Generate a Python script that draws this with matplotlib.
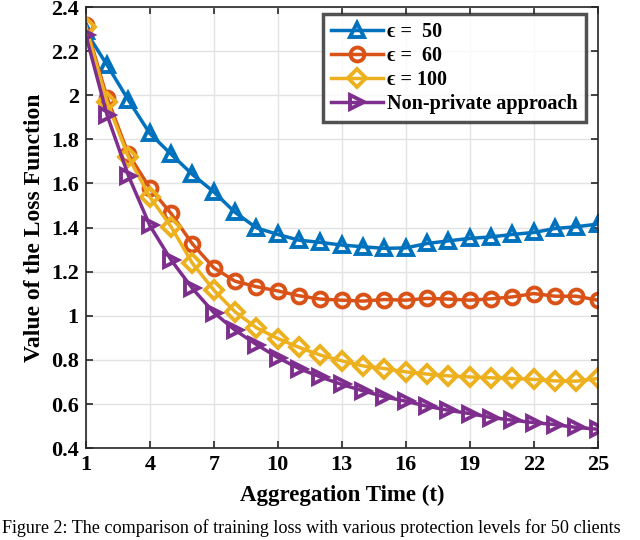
import matplotlib
matplotlib.use("Agg")
from matplotlib import pyplot as plt

# aggregation rounds
tiempos = list(range(1, 26))

perdida_eps50 = [2.29, 2.137, 1.978, 1.827, 1.733, 1.641, 1.562, 1.469, 1.399, 1.369,
                 1.343, 1.333, 1.321, 1.313, 1.306, 1.308, 1.328, 1.340, 1.351, 1.358,
                 1.369, 1.378, 1.396, 1.404, 1.416]
perdida_eps60 = [2.318, 1.989, 1.733, 1.580, 1.464, 1.326, 1.218, 1.157, 1.132, 1.113,
                 1.091, 1.076, 1.071, 1.067, 1.074, 1.071, 1.079, 1.076, 1.071, 1.077,
                 1.086, 1.101, 1.089, 1.089, 1.071]
perdida_eps100 = [2.31, 1.97, 1.72, 1.540, 1.404, 1.238, 1.117, 1.018, 0.946, 0.897,
                  0.857, 0.822, 0.796, 0.773, 0.761, 0.746, 0.736, 0.728, 0.723, 0.719,
                  0.716, 0.712, 0.705, 0.704, 0.716]
perdida_noprivada = [2.273, 1.910, 1.635, 1.410, 1.253, 1.124, 1.015, 0.935, 0.870, 0.811,
                     0.761, 0.723, 0.689, 0.660, 0.633, 0.613, 0.590, 0.572, 0.557, 0.539,
                     0.527, 0.516, 0.507, 0.494, 0.486]

etiquetas = ["\u03f5 =  50", "\u03f5 =  60", "\u03f5 = 100", "Non-private approach"]
ticks_x = [1, 4, 7, 10, 13, 16, 19, 22, 25]
ticks_y = [0.4, 0.6, 0.8, 1, 1.2, 1.4, 1.6, 1.8, 2, 2.2, 2.4]
etiquetas_y = ["0.4", "0.6", "0.8", "1", "1.2", "1.4", "1.6", "1.8", "2", "2.2", "2.4"]

plt.rcParams["font.family"] = ["Liberation Serif", "DejaVu Serif"]
plt.rcParams["font.weight"] = "bold"

fig = plt.figure(figsize=(6.4, 5.4), dpi=100)
ax = fig.add_axes([0.134, 0.170, 0.800, 0.817])

estilo = dict(linewidth=2.5, markersize=10, markerfacecolor="none", markeredgewidth=2.8)
ax.plot(tiempos, perdida_eps50, "-^", color="#0072BD", label=etiquetas[0], **estilo)
ax.plot(tiempos, perdida_eps60, "-o", color="#D95319", label=etiquetas[1], **estilo)
ax.plot(tiempos, perdida_eps100, "-D", color="#EDB120", label=etiquetas[2],
        linewidth=2.5, markersize=9, markerfacecolor="none", markeredgewidth=2.8)
ax.plot(tiempos, perdida_noprivada, "->", color="#7E2F8E", label=etiquetas[3], **estilo)

ax.set_xlim(1, 25)
ax.set_ylim(0.4, 2.4)
ax.set_xticks(ticks_x)
ax.set_yticks(ticks_y)
ax.set_yticklabels(etiquetas_y)
ax.tick_params(direction="in", top=True, right=True, labelsize=16, colors="#262626",
               length=5, width=1.2, pad=5)
for lab in ax.get_xticklabels() + ax.get_yticklabels():
    lab.set_color("black")
    lab.set_fontweight("bold")
for s in ax.spines.values():
    s.set_color("#262626")
    s.set_linewidth(1.2)
ax.grid(True, color="#e3e3e3", linewidth=1.0)
ax.set_axisbelow(True)

ax.set_xlabel("Aggregation Time (t)", fontsize=16.5, fontweight="bold", labelpad=7)
ax.set_ylabel("Value of the Loss Function", fontsize=17, fontweight="bold", labelpad=4)

leg = ax.legend(loc="upper right", bbox_to_anchor=(0.977, 0.984), fontsize=14.5,
                frameon=True, fancybox=False, handlelength=2.6, handletextpad=0.2,
                borderpad=0.4, labelspacing=0.2, borderaxespad=0)
leg.get_frame().set_edgecolor("#262626")
leg.get_frame().set_linewidth(2.5)
for t in leg.get_texts():
    t.set_fontweight("bold")

fig.text(0.003, 0.006, "Figure 2: The comparison of training loss with various protection levels for 50 clients",
         fontsize=13.1, fontweight="normal", ha="left", va="bottom")

fig.savefig("out.png", dpi=100)
